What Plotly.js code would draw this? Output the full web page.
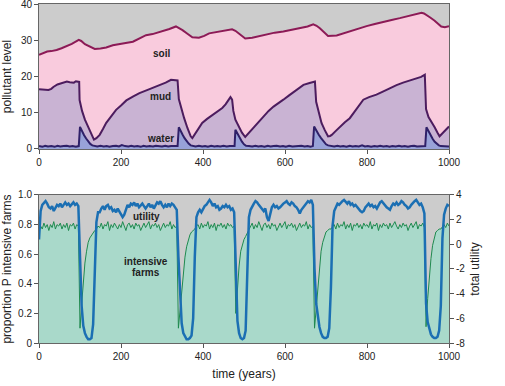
<!DOCTYPE html>
<html>
<head>
<meta charset="utf-8">
<script src="https://cdn.plot.ly/plotly-3.0.1.min.js"></script>
<style>html,body{margin:0;padding:0;background:#fff;}#chart{width:505px;height:386px;}</style>
</head>
<body>
<div id="chart"></div>
<script>
// ---------- top panel: pollutant levels ----------
const soilYears = [0,10,20,30,43,55,67,80,97,103,112,124,136,150,164,180,200,215,229,245,261,277,293,305,318,334,342,350,362,374,390,403,415,435,455,471,479,487,495,503,520,535,547,560,575,596,615,637,655,669,677,685,695,705,726,742,758,779,799,819,839,860,880,896,912,925,933,939,945,955,965,973,981,990,1000];
const soilLevel = [26.0,26.5,26.9,27.0,27.3,27.8,28.3,29.0,30.1,29.8,28.9,28.2,27.6,27.7,28.0,28.6,29.1,29.3,29.6,30.5,31.4,31.7,32.2,32.7,33.1,33.8,33.4,32.8,31.8,30.8,30.7,31.2,31.9,32.3,32.7,33.0,32.6,31.9,31.0,30.5,30.7,31.1,31.5,31.8,32.1,32.4,32.8,33.3,33.8,34.4,34.0,33.3,32.2,31.2,31.3,31.9,32.4,33.2,33.9,34.5,35.1,35.6,36.1,36.5,37.0,37.3,37.6,37.4,37.0,36.2,35.4,34.6,33.8,33.6,33.9];

const mudYears = [0,12,23,30,35,45,51,60,68,75,85,90,98,99,105,112,118,124,130,134,140,148,156,164,176,188,200,213,230,245,265,285,300,309,322,330,338,341,347,354,362,370,374,378,388,398,410,423,435,447,455,462,467,471,474,479,488,495,503,510,520,530,547,560,572,585,596,610,628,645,660,673,676,682,689,697,705,710,714,724,734,746,758,770,780,791,805,823,840,856,872,888,905,920,932,941,944,950,957,965,972,977,983,989,995,1000];
const mudLevel = [16.5,16.4,16.3,16.6,17.1,17.8,18.0,18.3,18.6,18.4,18.3,18.7,18.5,13.5,10.5,8.1,6.5,4.9,3.2,2.6,3.0,3.9,5.5,7.2,9.0,10.8,12.0,13.4,14.5,15.4,16.3,17.2,17.8,18.3,19.1,18.9,18.9,13.8,11.0,8.5,5.8,3.5,3.0,3.7,5.5,7.2,8.3,9.4,10.3,11.3,12.3,13.5,14.3,13.6,10.5,8.1,6.2,4.5,3.3,4.2,5.6,6.8,9.0,10.5,11.7,12.6,13.6,14.8,16.3,17.7,18.2,18.6,13.0,10.0,7.2,5.2,3.5,3.6,3.9,5.0,6.2,7.4,8.5,10.3,12.0,13.6,14.3,15.0,15.9,16.8,17.6,18.3,18.9,19.4,19.9,20.5,11.0,8.8,7.6,6.0,4.5,3.5,4.2,4.9,5.6,6.2];

const waterYears = [0,8,15,22,30,38,45,52,60,68,75,82,90,97,100,105,110,115,120,125,130,135,142,150,158,165,172,180,188,195,202,210,218,225,232,240,248,255,262,270,278,285,292,300,308,315,322,330,338,341,345,350,355,360,365,370,375,382,390,398,405,412,420,428,435,442,450,458,465,472,477,479,484,490,495,500,505,512,520,528,535,542,550,558,565,572,580,588,595,602,610,618,625,632,640,648,655,662,668,671,676,682,688,694,700,705,712,720,728,735,742,750,758,765,772,780,788,795,802,810,818,825,832,840,848,855,862,870,878,885,892,900,908,915,922,930,937,942,945,950,955,960,965,970,975,980,988,995,1000];
const waterLevel = [0.8,0.6,0.9,0.7,0.8,0.6,0.9,0.7,0.8,0.9,0.7,0.8,0.6,0.8,6.1,4.8,3.8,2.9,2.0,1.4,1.0,0.8,0.7,0.9,0.7,0.8,0.6,0.8,0.9,0.7,1.1,0.8,0.7,0.9,0.7,0.8,0.6,0.9,0.7,0.8,0.7,0.9,0.8,0.7,0.9,0.7,0.8,0.9,0.8,6.0,5.0,4.0,3.0,2.2,1.5,1.0,0.8,0.7,0.9,0.7,0.8,0.6,0.9,0.7,0.8,0.7,0.9,0.7,0.8,0.7,0.8,5.3,4.2,3.0,2.0,1.3,0.9,0.8,0.7,0.9,0.7,0.8,0.6,0.9,0.7,0.8,0.9,0.7,0.8,0.6,0.9,0.7,0.8,0.7,0.9,0.7,0.8,0.6,0.8,6.2,5.0,4.0,3.0,2.0,1.3,1.0,0.8,0.7,0.9,0.7,0.8,0.6,0.9,0.7,0.8,0.7,1.0,0.7,0.8,0.6,0.8,0.7,0.9,0.7,0.8,0.6,0.8,0.7,0.9,0.7,0.8,0.6,0.8,0.9,0.7,0.8,0.7,0.8,6.0,4.8,3.8,2.8,2.0,1.4,1.0,0.8,0.7,0.6,0.7];

// ---------- bottom panel: sampled every 4 years, in phases ----------
const farmsA = [0.75,0.79,0.77,0.81,0.78,0.80,0.76,0.80,0.78,0.82,0.77,0.80,0.79,0.81,0.77,0.80,0.78,0.81,0.76,0.80,0.79,0.81,0.77,0.80,0.79];
const farmsDip1 = [0.10,0.26,0.43,0.54,0.62,0.68,0.71,0.73,0.75,0.76,0.77,0.79];
const farmsB = [0.78,0.81,0.77,0.80,0.79,0.82,0.76,0.80,0.78,0.81,0.79,0.77,0.80,0.78,0.82,0.79,0.76,0.80,0.81,0.78,0.80,0.77,0.81,0.79,0.80,0.76,0.79,0.81,0.78,0.80,0.82,0.77,0.80,0.79,0.81,0.78,0.80,0.76,0.79,0.81,0.78,0.80,0.79,0.82,0.77,0.80,0.78,0.79];
const farmsDip2 = [0.10,0.22,0.36,0.48,0.58,0.65,0.70,0.73,0.75,0.76,0.77,0.79];
const farmsC = [0.80,0.77,0.81,0.78,0.80,0.79,0.82,0.77,0.80,0.78,0.81,0.76,0.80,0.79,0.81,0.78,0.80,0.77,0.81,0.79,0.80,0.78,0.79];
const farmsDip3 = [0.20,0.38,0.52,0.62,0.67,0.70,0.72,0.74,0.77];
const farmsD = [0.79,0.81,0.77,0.80,0.78,0.82,0.79,0.76,0.80,0.81,0.78,0.80,0.77,0.81,0.79,0.80,0.76,0.79,0.81,0.78,0.80,0.82,0.77,0.80,0.79,0.81,0.78,0.80,0.76,0.79,0.81,0.78,0.80,0.79,0.82,0.77,0.80,0.78,0.79];
const farmsDip4 = [0.10,0.24,0.39,0.52,0.62,0.68,0.72,0.75,0.76,0.77,0.77,0.79];
const farmsE = [0.80,0.77,0.81,0.78,0.80,0.79,0.82,0.77,0.80,0.78,0.81,0.76,0.80,0.79,0.81,0.78,0.80,0.77,0.81,0.79,0.80,0.78,0.82,0.77,0.80,0.79,0.81,0.76,0.80,0.78,0.81,0.79,0.80,0.77,0.81,0.78,0.80,0.82,0.79,0.77,0.80,0.78,0.81,0.79,0.80,0.76,0.79,0.81,0.78,0.80,0.82,0.77,0.80,0.79,0.81,0.78];
const farmsDip5 = [0.11,0.30,0.45,0.57,0.66,0.71,0.75,0.76,0.77,0.77,0.79];
const farmsF = [0.80,0.78,0.81,0.79];

const utilA = [0.4,2.7,3.2,3.4,3.5,3.3,3.0,2.9,3.1,2.7,2.9,3.2,3.1,3.3,3.0,3.2,3.4,3.2,3.3,3.1,3.3,3.4,3.2,3.3,3.1];
const utilDip1 = [-1.5,-5.0,-6.6,-7.2,-7.5,-7.7,-7.7,-7.6,-6.5,-2.0,1.8,2.6];
const utilB = [2.6,2.9,3.1,2.8,3.1,3.2,2.9,3.0,2.7,2.8,2.6,2.9,2.7,2.5,2.2,2.4,2.9,3.2,3.0,3.3,3.2,3.4,3.1,3.3,3.0,3.2,3.3,3.1,2.9,3.1,3.3,3.0,3.2,2.9,3.2,3.4,3.3,3.5,3.2,3.0,3.2,3.0,3.3,3.1,3.3,3.2,3.0,2.8];
const utilDip2 = [-1.0,-4.5,-6.4,-7.2,-7.5,-7.7,-7.7,-7.6,-7.4,-6.0,-1.0,2.2];
const utilC = [2.6,2.8,2.6,2.9,3.1,3.2,3.4,3.6,3.4,3.1,3.3,3.0,3.1,2.8,2.9,3.1,3.0,3.2,3.0,3.1,2.8,2.9,2.6];
const utilDip3 = [-3.0,-6.2,-7.2,-7.6,-7.7,-7.6,-7.0,-1.5,2.2];
const utilD = [2.8,3.1,3.3,3.5,3.4,3.2,3.0,2.9,2.7,2.9,2.2,1.9,2.6,3.0,3.2,3.0,3.1,2.9,3.0,3.2,3.3,3.4,3.5,3.3,3.2,3.4,3.3,3.1,3.0,2.8,2.5,2.8,3.0,3.2,3.4,3.5,3.4,3.6,3.2];
const utilDip4 = [-2.0,-4.8,-6.0,-6.7,-7.2,-7.5,-7.6,-7.6,-7.5,-6.8,-3.5,1.5];
const utilE = [2.7,3.0,3.3,3.2,3.4,3.5,3.6,3.4,3.3,3.5,3.2,3.3,3.1,3.2,3.0,2.9,2.7,2.6,2.7,3.0,3.2,3.3,3.1,3.2,3.0,3.1,2.9,3.2,3.4,3.5,3.3,3.2,3.0,2.9,2.8,3.1,3.3,3.2,3.4,3.2,3.3,3.5,3.4,3.2,3.1,2.9,3.0,3.2,3.4,3.5,3.6,3.4,3.2,3.3,3.0,2.5];
const utilDip5 = [-4.8,-6.3,-6.9,-7.3,-7.5,-7.6,-7.6,-7.5,-7.0,-5.0,0.5];
const utilF = [2.4,2.9,3.2,3.1];

const sampleStep = 4;
const farms = [].concat(farmsA,farmsDip1,farmsB,farmsDip2,farmsC,farmsDip3,farmsD,farmsDip4,farmsE,farmsDip5,farmsF);
const utility = [].concat(utilA,utilDip1,utilB,utilDip2,utilC,utilDip3,utilD,utilDip4,utilE,utilDip5,utilF);
const years = farms.map((_, i) => i * sampleStep);

const xTicks = [0,200,400,600,800,1000];
const pTicks = [0,0.2,0.4,0.6,0.8,1.0];
const pTickText = ['0','0.2','0.4','0.6','0.8','1.0'];
const uTicks = [-8,-6,-4,-2,0,2,4];
const uTickText = ['-8','-6','-4','-2','0','2','4'];
const polTicks = [0,10,20,30,40];

const traces = [
  {x: soilYears, y: soilLevel, xaxis:'x', yaxis:'y', mode:'lines', fill:'tozeroy', fillcolor:'#f9cbdd', line:{color:'#8c1a56', width:2}},
  {x: mudYears, y: mudLevel, xaxis:'x', yaxis:'y', mode:'lines', fill:'tozeroy', fillcolor:'#c9b3d3', line:{color:'#4c1c5e', width:2}},
  {x: waterYears, y: waterLevel, xaxis:'x', yaxis:'y', mode:'lines', fill:'tozeroy', fillcolor:'#98a2d8', line:{color:'#2f2068', width:2}},
  {x: years, y: farms, xaxis:'x2', yaxis:'y2', mode:'lines', fill:'tozeroy', fillcolor:'#a9d9ca', line:{color:'#1f8a4f', width:1}},
  {x: years, y: utility, xaxis:'x2', yaxis:'y3', mode:'lines', line:{color:'#1b6fb3', width:2.5}}
];

const axisCommon = {showgrid:false, zeroline:false, showline:true, linecolor:'#666', linewidth:1, mirror:true, ticks:'outside', ticklen:4, tickcolor:'#555', tickfont:{size:10, color:'#222'}, ticklabeloverflow:'allow'};
const labelFont = {family:'Liberation Sans, Arial, sans-serif', size:10, color:'#222', weight:'bold'};

const layout = {
  width:505, height:386,
  margin:{l:39, r:56, t:4, b:43},
  paper_bgcolor:'#ffffff', plot_bgcolor:'#cccccc',
  showlegend:false,
  font:{family:'Liberation Sans, Arial, sans-serif', size:10, color:'#222'},
  xaxis: Object.assign({}, axisCommon, {domain:[0,1], anchor:'y', range:[0,1000], tickvals:xTicks}),
  yaxis: Object.assign({}, axisCommon, {domain:[0.5723,1], anchor:'x', range:[0,40], tickvals:polTicks,
    title:{text:'pollutant level', font:{size:12, color:'#222'}, standoff:6}}),
  xaxis2: Object.assign({}, axisCommon, {domain:[0,1], anchor:'y2', range:[0,1000], tickvals:xTicks,
    title:{text:'time (years)', font:{size:12, color:'#222'}, standoff:8}}),
  yaxis2: Object.assign({}, axisCommon, {domain:[0,0.4366], anchor:'x2', range:[0,1], tickvals:pTicks, ticktext:pTickText,
    title:{text:'proportion P intensive farms', font:{size:12, color:'#222'}, standoff:6}}),
  yaxis3: Object.assign({}, axisCommon, {overlaying:'y2', anchor:'x2', side:'right', range:[-8,4], tickvals:uTicks, ticktext:uTickText, mirror:false,
    title:{text:'total utility', font:{size:12, color:'#222'}, standoff:6}}),
  annotations: [
    {xref:'x', yref:'y', x:299, y:26.3, text:'soil', showarrow:false, font:labelFont},
    {xref:'x', yref:'y', x:297, y:14.4, text:'mud', showarrow:false, font:labelFont},
    {xref:'x', yref:'y', x:297, y:2.95, text:'water', showarrow:false, font:labelFont},
    {xref:'x2', yref:'y2', x:263, y:0.858, text:'utility', showarrow:false, font:labelFont},
    {xref:'x2', yref:'y2', x:262, y:0.548, text:'intensive', showarrow:false, font:labelFont},
    {xref:'x2', yref:'y2', x:262, y:0.479, text:'farms', showarrow:false, font:labelFont}
  ]
};

Plotly.newPlot('chart', traces, layout, {displayModeBar:false, staticPlot:true});
</script>
</body>
</html>
